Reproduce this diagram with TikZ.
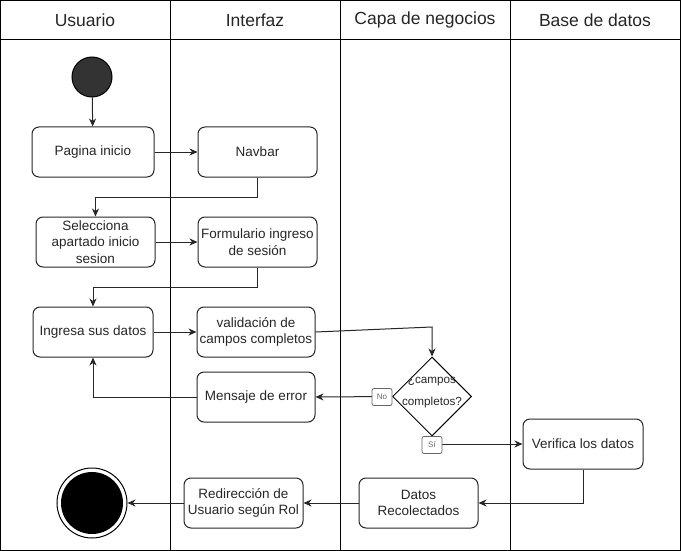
\documentclass[tikz,border=0pt]{standalone}
\usepackage{fontspec}
\setmainfont{Liberation Sans}
\usetikzlibrary{shapes.geometric,arrows.meta}
\tikzset{
  box/.style={draw=black!85, line width=1pt, rounded corners=7pt, minimum width=119pt, minimum height=50pt, align=center, inner sep=1pt, font=\fontsize{13.5}{16.7}\selectfont, text=black!85},
  lane/.style={draw=black, line width=1pt},
  hdr/.style={font=\fontsize{17.5}{20}\selectfont, text=black!85},
  arr/.style={draw=black!85, line width=1pt, -{Stealth[length=8pt,width=7pt,inset=2.5pt]}},
  tag/.style={draw=black!60, fill=white, rounded corners=2pt, line width=0.8pt, minimum width=20pt, minimum height=17pt, inner sep=0pt, font=\fontsize{8}{9}\selectfont, text=black!60}
}
\begin{document}
\begin{tikzpicture}[x=1pt,y=-1pt]
\useasboundingbox (0,0) rectangle (681,551);
% swimlanes
\draw[lane] (0.5,0.5) rectangle (680.5,550.5);
\draw[lane] (0.5,40) -- (680.5,40);
\draw[lane] (170.5,0.5) -- (170.5,550.5);
\draw[lane] (340.5,0.5) -- (340.5,550.5);
\draw[lane] (510.5,0.5) -- (510.5,550.5);
\node[hdr] (h1) at (85,20) {Usuario};
\node[hdr] (h2) at (255,20) {Interfaz};
\node[hdr] (h3) at (425,20) {Capa de negocios};
\node[hdr] (h4) at (595,20) {Base de datos};
% nodes
\node[circle, draw=black, fill=black!80, line width=1pt, minimum size=40pt, inner sep=0pt] (start) at (92,77) {};
\node[box, minimum width=122pt] (pag) at (93,152) {Pagina inicio};
\node[box] (nav) at (257.5,152) {Navbar};
\node[box] (sel) at (95.5,242) {Selecciona\\apartado inicio\\sesion};
\node[box] (form) at (257.5,242) {Formulario ingreso\\de sesión};
\node[box, minimum width=120pt] (ing) at (93,332) {Ingresa sus datos};
\node[box, minimum width=118pt] (val) at (256,332) {validación de\\campos completos};
\node[box, minimum width=118pt] (msg) at (256,397) {Mensaje de error};
\node[diamond, draw=black, line width=1pt, minimum width=79pt, minimum height=79pt, inner sep=0pt] (d) at (432,396.5) {};
\node[align=center, font=\fontsize{11.7}{22}\selectfont, text=black!85] (dt) at (432,393) {¿campos\\completos?};
\node[box, minimum width=120pt] (ver) at (583,444) {Verifica los datos};
\node[box] (dat) at (418.5,503) {Datos\\Recolectados};
\node[box] (red) at (243.5,503) {Redirección de\\Usuario según Rol};
\node[circle, draw=black, fill=white, line width=1pt, minimum size=70pt, inner sep=0pt] (end) at (92,503) {};
\node[circle, fill=black, minimum size=62pt, inner sep=0pt] (endin) at (end.center) {};
% connectors
\draw[arr] (start) -- (pag);
\draw[arr] (pag) -- (nav);
\draw[arr] (nav.south) -- ++(0,20) -| (sel.north);
\draw[arr] (sel) -- (form);
\draw[arr] (form.south) -- ++(0,20) -| (ing.north);
\draw[arr] (ing) -- (val);
\coordinate (vd) at (432,327);
\draw[arr] (val.east) -- (vd) -- (d.north);
\draw[arr] (d.west) -- (msg.east);
\node[tag] (no) at (382,397) {No};
\draw[arr] (msg.west) -| (ing.south);
\draw[arr] (d.south) |- (ver.west);
\node[tag] (si) at (432,445) {Sí};
\draw[arr] (ver.south) |- (dat.east);
\draw[arr] (dat) -- (red);
\draw[arr] (red) -- (end);
\end{tikzpicture}
\end{document}
